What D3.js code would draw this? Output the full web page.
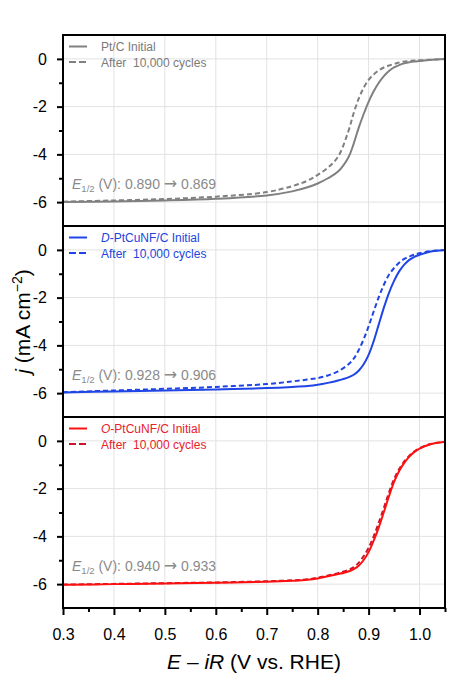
<!DOCTYPE html>
<html>
<head>
<meta charset="utf-8">
<script src="https://cdn.jsdelivr.net/npm/d3@7"></script>
<style>
  html, body { margin: 0; padding: 0; background: #fff; }
  svg { display: block; font-family: "Liberation Sans", Arial, sans-serif; }
</style>
</head>
<body>
<svg id="chart" width="464" height="686"></svg>
<script>
// ---------------- data ----------------
const potential = [0.30, 0.40, 0.50, 0.60, 0.70, 0.75, 0.78, 0.80, 0.82, 0.84, 0.86, 0.87, 0.88, 0.89,
                   0.90, 0.91, 0.92, 0.93, 0.94, 0.95, 0.96, 0.97, 0.98, 0.99, 1.00, 1.02, 1.05];

const ptcInitial = [-6.00, -5.97, -5.93, -5.86, -5.72, -5.55, -5.38, -5.22, -5.00, -4.72, -4.14, -3.60, -2.92, -2.33,
                    -1.80, -1.36, -1.00, -0.72, -0.51, -0.36, -0.26, -0.19, -0.14, -0.11, -0.09, -0.05, -0.01];
const ptcAfter   = [-5.98, -5.93, -5.87, -5.77, -5.58, -5.33, -5.10, -4.86, -4.56, -4.10, -3.05, -2.32, -1.70, -1.22,
                    -0.88, -0.65, -0.48, -0.36, -0.28, -0.21, -0.15, -0.11, -0.09, -0.07, -0.06, -0.04, -0.01];

const dInitial   = [-5.97, -5.93, -5.89, -5.85, -5.79, -5.74, -5.70, -5.65, -5.57, -5.47, -5.34, -5.24, -5.07, -4.80,
                    -4.40, -3.82, -3.12, -2.42, -1.80, -1.30, -0.90, -0.62, -0.42, -0.29, -0.21, -0.08, -0.01];
const dAfter     = [-5.96, -5.89, -5.82, -5.74, -5.62, -5.51, -5.43, -5.37, -5.26, -5.09, -4.80, -4.58, -4.22, -3.76,
                    -3.20, -2.58, -1.98, -1.46, -1.04, -0.76, -0.54, -0.38, -0.28, -0.20, -0.14, -0.06, -0.01];

const oInitial   = [-6.03, -6.00, -5.97, -5.94, -5.90, -5.86, -5.82, -5.76, -5.67, -5.58, -5.47, -5.38, -5.24, -5.00,
                    -4.66, -4.18, -3.62, -2.98, -2.32, -1.72, -1.26, -0.92, -0.66, -0.46, -0.32, -0.15, -0.04];
const oAfter     = [-6.02, -5.99, -5.96, -5.93, -5.88, -5.84, -5.80, -5.73, -5.64, -5.54, -5.41, -5.30, -5.12, -4.84,
                    -4.48, -4.00, -3.42, -2.80, -2.16, -1.60, -1.18, -0.86, -0.62, -0.44, -0.31, -0.14, -0.04];

const legendPrefix = ["", "D", "O"];
const legendMain   = ["Pt/C Initial", "-PtCuNF/C Initial", "-PtCuNF/C Initial"];
const afterLabel   = "After  10,000 cycles";
const e12Before    = [0.890, 0.928, 0.940];
const e12After     = [0.869, 0.906, 0.933];

const xTicks      = [0.3, 0.4, 0.5, 0.6, 0.7, 0.8, 0.9, 1.0];
const xMinorTicks = [0.35, 0.45, 0.55, 0.65, 0.75, 0.85, 0.95, 1.05];
const yTicks      = [0, -2, -4, -6];
const yMinorTicks = [-1, -3, -5];

// ---------------- styling / layout ----------------
const lineColors = [["#808080", "#808080"], ["#1f45e6", "#1f45e6"], ["#ff1010", "#c8162e"]];
const textColors = ["#7a7a7a", "#2244dd", "#e8202a"];
const annotColor = "#8a8a8a";

const L = 63, R = 445, T = 35, PH = 191;
const svg = d3.select("#chart");
const x = d3.scaleLinear().domain([0.3, 1.05]).range([L, R]);

const series = [
  [ptcInitial, ptcAfter],
  [dInitial, dAfter],
  [oInitial, oAfter]
];

svg.append("defs").selectAll("clipPath").data([0, 1, 2]).join("clipPath")
  .attr("id", d => "clip" + d)
  .append("rect")
  .attr("x", L).attr("y", d => T + d * PH).attr("width", R - L).attr("height", PH);

series.forEach((pair, i) => {
  const top = T + i * PH;
  const y = d3.scaleLinear().domain([-7, 1]).range([top + PH, top]);
  const g = svg.append("g");

  // grid
  g.selectAll(".vg").data(xTicks).join("line")
    .attr("x1", d => x(d)).attr("x2", d => x(d))
    .attr("y1", top).attr("y2", top + PH)
    .attr("stroke", "#e2e2e2").attr("stroke-width", 1);
  g.selectAll(".hg").data(yTicks).join("line")
    .attr("x1", L).attr("x2", R)
    .attr("y1", d => y(d)).attr("y2", d => y(d))
    .attr("stroke", "#e2e2e2").attr("stroke-width", 1);

  // curves
  const line = d3.line()
    .x((d, k) => x(potential[k]))
    .y(d => y(d))
    .curve(d3.curveCatmullRom.alpha(0.5));
  const cg = g.append("g").attr("clip-path", `url(#clip${i})`);
  cg.append("path").datum(pair[1])
    .attr("d", line).attr("fill", "none")
    .attr("stroke", lineColors[i][1]).attr("stroke-width", 2)
    .attr("stroke-dasharray", "5,3");
  cg.append("path").datum(pair[0])
    .attr("d", line).attr("fill", "none")
    .attr("stroke", lineColors[i][0]).attr("stroke-width", 2);

  // y axis
  const ay = g.append("g").attr("transform", `translate(${L},0)`)
    .call(d3.axisLeft(y).tickValues(yTicks).tickSize(6).tickPadding(10).tickFormat(d => String(d)));
  ay.select(".domain").remove();
  ay.selectAll("line").attr("stroke", "#000").attr("stroke-width", 2);
  ay.selectAll("text").attr("font-size", 16).attr("fill", "#000")
    .attr("font-family", '"Liberation Sans", Arial, sans-serif');
  const ayMinor = g.append("g").attr("transform", `translate(${L},0)`)
    .call(d3.axisLeft(y).tickValues(yMinorTicks).tickSize(4).tickFormat(""));
  ayMinor.select(".domain").remove();
  ayMinor.selectAll("line").attr("stroke", "#000").attr("stroke-width", 2);

  // legend
  const lg = g.append("g");
  lg.append("line").attr("x1", 69).attr("x2", 87).attr("y1", top + 11.5).attr("y2", top + 11.5)
    .attr("stroke", lineColors[i][0]).attr("stroke-width", 2);
  lg.append("line").attr("x1", 69).attr("x2", 87).attr("y1", top + 27).attr("y2", top + 27)
    .attr("stroke", lineColors[i][1]).attr("stroke-width", 2).attr("stroke-dasharray", "7,3");
  const t1 = lg.append("text").attr("x", 101).attr("y", top + 16)
    .attr("font-size", 12).attr("fill", textColors[i]);
  if (legendPrefix[i]) t1.append("tspan").attr("font-style", "italic").text(legendPrefix[i]);
  t1.append("tspan").text(legendMain[i]);
  lg.append("text").attr("x", 101).attr("y", top + 31.5)
    .attr("font-size", 12).attr("fill", textColors[i])
    .style("white-space", "pre").attr("xml:space", "preserve").text(afterLabel);

  // E1/2 annotation
  const at = g.append("text").attr("x", 72).attr("y", y(-5.45))
    .attr("font-size", 14).attr("fill", annotColor)
    .style("white-space", "pre").attr("xml:space", "preserve");
  at.append("tspan").attr("font-style", "italic").text("E");
  at.append("tspan").attr("font-size", 9.5).attr("dy", 3).text("1/2");
  at.append("tspan").attr("dy", -3).text(` (V): ${e12Before[i].toFixed(3)} `);
  at.append("tspan").attr("font-family", '"Noto Sans", "DejaVu Sans", sans-serif').attr("font-size", 16).text("\u2192");
  at.append("tspan").text(` ${e12After[i].toFixed(3)}`);

  // frame
  g.append("rect").attr("x", L).attr("y", top).attr("width", R - L).attr("height", PH)
    .attr("fill", "none").attr("stroke", "#000").attr("stroke-width", 2);
});

// x axis (bottom panel)
const bottom = T + 3 * PH;
const ax = svg.append("g").attr("transform", `translate(0,${bottom})`)
  .call(d3.axisBottom(x).tickValues(xTicks).tickSize(7).tickPadding(14).tickFormat(d3.format(".1f")));
ax.select(".domain").remove();
ax.selectAll("line").attr("stroke", "#000").attr("stroke-width", 2);
ax.selectAll("text").attr("font-size", 16).attr("fill", "#000")
  .attr("font-family", '"Liberation Sans", Arial, sans-serif');
const axMinor = svg.append("g").attr("transform", `translate(0,${bottom})`)
  .call(d3.axisBottom(x).tickValues(xMinorTicks).tickSize(4).tickFormat(""));
axMinor.select(".domain").remove();
axMinor.selectAll("line").attr("stroke", "#000").attr("stroke-width", 2);

// axis titles
const xt = svg.append("text").attr("x", (L + R) / 2).attr("y", 669)
  .attr("text-anchor", "middle").attr("font-size", 21).attr("fill", "#000");
xt.append("tspan").attr("font-style", "italic").text("E");
xt.append("tspan").text(" \u2013 ");
xt.append("tspan").attr("font-style", "italic").text("iR");
xt.append("tspan").text(" (V vs. RHE)");

const yt = svg.append("text")
  .attr("transform", `translate(30,${T + 1.5 * PH}) rotate(-90)`)
  .attr("text-anchor", "middle").attr("font-size", 21).attr("fill", "#000");
yt.append("tspan").attr("font-style", "italic").text("j");
yt.append("tspan").text(" (mA cm");
yt.append("tspan").attr("font-size", 14).attr("dy", -8).text("\u22122");
yt.append("tspan").attr("dy", 8).text(")");
</script>
</body>
</html>
